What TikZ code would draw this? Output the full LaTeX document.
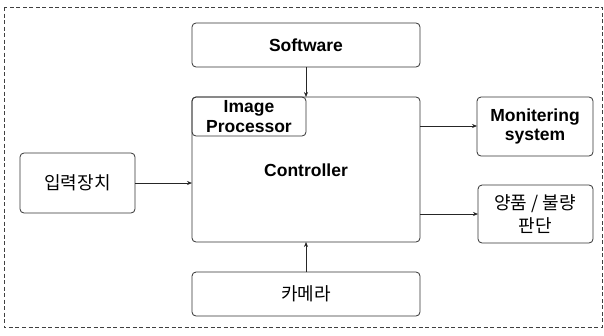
\documentclass[tikz,border=0pt]{standalone}
\usepackage{fontspec}
\setmainfont{Liberation Sans}
\newfontfamily\kr{Noto Sans CJK KR}
\usetikzlibrary{arrows.meta}
\begin{document}
\begin{tikzpicture}[x=1pt,y=-1pt,
  box/.style={draw=black!80, line width=0.8pt, rounded corners=4pt},
  lbl/.style={font=\fontsize{17.5}{19.5}\selectfont\bfseries, align=center, inner sep=0pt},
  klbl/.style={font=\fontsize{18}{23}\selectfont\kr, align=center, inner sep=0pt},
  conn/.style={draw=black!85, line width=0.7pt, -{Stealth[length=5pt,width=4pt]}}]
\useasboundingbox (0,0) rectangle (604,335);
\draw[black!75, line width=0.8pt, dashed, dash pattern=on 4pt off 2.5pt] (4,7) rectangle (602,327);
% boxes
\draw[box] (192,23) rectangle (420,67);
\node[lbl] (sw) at (306,45) {Software};
\coordinate (swb) at (306,67);
\draw[box] (192,97) rectangle (420,242);
\draw[box] (192,97) rectangle (306,136);
\node[lbl] (ip) at (249,116.5) {Image\\Processor};
\node[lbl] (ctl) at (306,170) {Controller};
\coordinate (ctlt) at (306,97);
\coordinate (ctlb) at (306,242);
\coordinate (ctll) at (192,183);
\coordinate (ctlr1) at (420,126);
\coordinate (ctlr2) at (420,214);
\draw[box] (20,153) rectangle (135,213);
\node[klbl] (in) at (77.5,183) {입력장치};
\coordinate (inr) at (135,183);
\draw[box] (477,97) rectangle (593,156);
\node[lbl] (mon) at (535,126.5) {Monitering\\system};
\coordinate (monl) at (477,126);
\draw[box] (478,185) rectangle (593,243);
\node[klbl] (jd) at (535,214) {양품 / 불량\\판단};
\coordinate (jdl) at (478,214);
\draw[box] (192,272) rectangle (420,316);
\node[klbl] (cam) at (306,294) {카메라};
\coordinate (camt) at (306,272);
% connectors
\draw[conn] (swb) -- (ctlt);
\draw[conn] (inr) -- (ctll);
\draw[conn] (ctlr1) -- (monl);
\draw[conn] (ctlr2) -- (jdl);
\draw[conn] (camt) -- (ctlb);
\end{tikzpicture}
\end{document}
